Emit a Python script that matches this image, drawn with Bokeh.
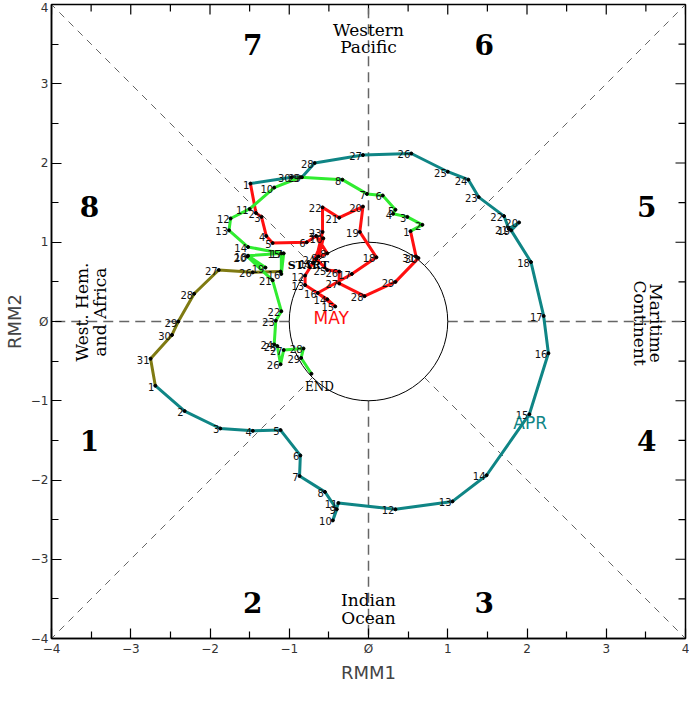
import numpy as np
from bokeh.plotting import figure
from bokeh.models import Range1d, LinearAxis, FixedTicker
from bokeh.core.properties import value
from bokeh.embed import file_html
from bokeh.resources import INLINE

# ---------------- data (RMM1, RMM2) ----------------
mar_days = [25, 26, 27, 28, 29, 30, 31]
mar_x = [-1.11, -1.46, -1.89, -2.20, -2.40, -2.48, -2.75]
mar_y = [0.63, 0.62, 0.65, 0.35, 0.00, -0.17, -0.47]

apr_days = list(range(1, 31))
apr_x = [-2.69, -2.32, -1.87, -1.46, -1.11, -0.86, -0.87, -0.55, -0.40, -0.45,
         -0.38, 0.34, 1.06, 1.49, 2.03, 2.27, 2.21, 2.05, 1.80, 1.90,
         1.77, 1.71, 1.39, 1.26, 1.00, 0.54, -0.07, -0.68, -0.84, -0.97]
apr_y = [-0.81, -1.13, -1.35, -1.38, -1.37, -1.69, -1.95, -2.15, -2.37, -2.51,
         -2.29, -2.37, -2.27, -1.94, -1.17, -0.40, 0.07, 0.75, 1.15, 1.25,
         1.17, 1.33, 1.57, 1.79, 1.89, 2.12, 2.10, 2.00, 1.82, 1.82]

may_days = list(range(1, 32))
may_x = [-1.49, -1.42, -1.35, -1.29, -1.21, -0.78, -0.66, -0.52, -0.63, -0.57,
         -0.70, -0.80, -0.80, -0.52, -0.42, -0.64, -0.21, 0.10, -0.11, -0.07,
         -0.37, -0.58, -0.58, -0.66, -0.52, -0.37, -0.37, -0.05, 0.34, 0.63,
         0.60]
may_y = [1.74, 1.37, 1.32, 1.08, 0.99, 1.00, 1.08, 0.86, 0.82, 1.05,
         0.74, 0.58, 0.46, 0.28, 0.19, 0.36, 0.60, 0.81, 1.13, 1.45,
         1.31, 1.44, 1.13, 0.79, 0.65, 0.63, 0.48, 0.32, 0.50, 0.80,
         0.82]

jun_days = list(range(1, 31))
jun_x = [0.53, 0.68, 0.49, 0.31, 0.34, 0.18, -0.02, -0.33, -0.86, -1.19,
         -1.50, -1.74, -1.76, -1.52, -1.10, -1.10, -1.07, -1.52, -1.30, -1.53,
         -1.21, -1.10, -1.17, -1.19, -1.15, -1.11, -1.07, -0.82, -0.85, -0.72]
jun_y = [1.14, 1.22, 1.32, 1.36, 1.41, 1.59, 1.61, 1.79, 1.82, 1.69,
         1.42, 1.30, 1.15, 0.94, 0.86, 0.60, 0.86, 0.83, 0.68, 0.82,
         0.52, 0.13, 0.01, -0.29, -0.31, -0.54, -0.36, -0.34, -0.46, -0.66]

month_colors = ["#7f7a12", "#0f8585", "#ff1010", "#30ec30"]
tick_vals = [-4, -3, -2, -1, 0, 1, 2, 3, 4]
minor_vals = [-3.5, -2.5, -1.5, -0.5, 0.5, 1.5, 2.5, 3.5]

phase_labels = ["1", "2", "3", "4", "5", "6", "7", "8"]
phase_x = [-3.52, -1.46, 1.46, 3.51, 3.51, 1.46, -1.46, -3.52]
phase_y = [-1.50, -3.55, -3.55, -1.50, 1.45, 3.50, 3.50, 1.45]

# ---------------- figure ----------------
FRAME = 634
p = figure(frame_width=FRAME, frame_height=FRAME, x_range=Range1d(-4, 4), y_range=Range1d(-4, 4),
           output_backend="svg", toolbar_location=None, x_axis_location=None, y_axis_location=None,
           min_border_left=10, min_border_right=4, min_border_top=4, min_border_bottom=10,
           background_fill_color="white", border_fill_color="white")
p.xgrid.visible = False
p.ygrid.visible = False
p.outline_line_color = "black"
p.outline_line_width = 1.5

def make_axis(side, title):
    ax = LinearAxis(ticker=FixedTicker(ticks=tick_vals, minor_ticks=minor_vals))
    ax.major_tick_in = 10
    ax.major_tick_out = 0
    ax.minor_tick_in = 7
    ax.minor_tick_out = 0
    ax.axis_line_color = "black"
    ax.axis_line_width = 1.5
    ax.major_tick_line_color = "black"
    ax.minor_tick_line_color = "black"
    ax.major_tick_line_width = 1.2
    ax.minor_tick_line_width = 1.2
    ax.major_label_overrides = {0: "Ø"}
    ax.major_label_text_font = "DejaVu Sans"
    ax.major_label_text_font_size = "12px"
    ax.major_label_text_color = "#333333"
    ax.major_label_standoff = 3
    ax.axis_label = title
    ax.axis_label_text_font = "DejaVu Sans"
    ax.axis_label_text_font_size = "18px"
    ax.axis_label_text_font_style = "normal"
    ax.axis_label_text_color = "#444444"
    ax.axis_label_standoff = 3
    p.add_layout(ax, side)
    return ax

make_axis("below", "RMM1")
make_axis("left", "RMM2")

# inward ticks on the top and right frame edges
px_per_unit = FRAME / 8.0
maj_len = 10 / px_per_unit
min_len = 7 / px_per_unit
tv = np.array(tick_vals, dtype=float)
mv = np.array(minor_vals, dtype=float)
p.segment(x0=tv, y0=np.full(tv.size, 4.0), x1=tv, y1=np.full(tv.size, 4.0 - maj_len),
          line_color="black", line_width=1.2)
p.segment(x0=mv, y0=np.full(mv.size, 4.0), x1=mv, y1=np.full(mv.size, 4.0 - min_len),
          line_color="black", line_width=1.2)
p.segment(x0=np.full(tv.size, 4.0), y0=tv, x1=np.full(tv.size, 4.0 - maj_len), y1=tv,
          line_color="black", line_width=1.2)
p.segment(x0=np.full(mv.size, 4.0), y0=mv, x1=np.full(mv.size, 4.0 - min_len), y1=mv,
          line_color="black", line_width=1.2)

# ---------------- guide lines ----------------
r_in, r_out = 1.0, 4.0
d_in = r_in / np.sqrt(2)
p.segment(x0=[0, 0, r_in, -r_in], y0=[r_in, -r_in, 0, 0],
          x1=[0, 0, r_out, -r_out], y1=[r_out, -r_out, 0, 0],
          line_color="#666666", line_width=1.5, line_dash="10 6")
p.segment(x0=[d_in, -d_in, d_in, -d_in], y0=[d_in, d_in, -d_in, -d_in],
          x1=[r_out, -r_out, r_out, -r_out], y1=[r_out, r_out, -r_out, -r_out],
          line_color="#666666", line_width=1, line_dash="7 6")
p.circle(x=[0], y=[0], radius=r_in, fill_color=None, line_color="black", line_width=1)

# ---------------- region & phase texts ----------------
serif = value("DejaVu Serif")
p.text(x=phase_x, y=phase_y, text=phase_labels, text_font=serif, text_font_size="28px",
       text_font_style="bold", text_align="center", text_baseline="middle", text_color="black")
p.text(x=[0, 0], y=[3.68, 3.46], text=["Western", "Pacific"], text_font=serif,
       text_font_size="17px", text_align="center", text_baseline="middle", text_color="black")
p.text(x=[0, 0], y=[-3.52, -3.74], text=["Indian", "Ocean"], text_font=serif,
       text_font_size="17px", text_align="center", text_baseline="middle", text_color="black")
p.text(x=[-3.61, -3.39], y=[0.12, 0.12], text=["West. Hem.", "and Africa"], angle=np.pi / 2,
       text_font=serif, text_font_size="17px", text_align="center", text_baseline="middle",
       text_color="black")
p.text(x=[3.63, 3.43], y=[-0.02, -0.02], text=["Maritime", "Continent"], angle=-np.pi / 2,
       text_font=serif, text_font_size="17px", text_align="center", text_baseline="middle",
       text_color="black")

# ---------------- trajectory ----------------
months = [(mar_days, mar_x, mar_y), (apr_days, apr_x, apr_y),
          (may_days, may_x, may_y), (jun_days, jun_x, jun_y)]
for i, (d, xs, ys) in enumerate(months):
    lx = list(xs)
    ly = list(ys)
    if i + 1 < len(months):
        lx.append(months[i + 1][1][0])
        ly.append(months[i + 1][2][0])
    p.line(lx, ly, line_color=month_colors[i], line_width=3, line_join="round")

for i, (d, xs, ys) in enumerate(months):
    p.scatter(xs, ys, size=3, color="black")

lab = value("DejaVu Sans")
for i, (d, xs, ys) in enumerate(months):
    d2, x2, y2 = list(d), list(xs), list(ys)
    if i == 0:
        d2, x2, y2 = d2[1:], x2[1:], y2[1:]
    if i == len(months) - 1:
        d2, x2, y2 = d2[:-1], x2[:-1], y2[:-1]
    p.text(x=x2, y=y2, text=[str(v) for v in d2], text_font=lab, text_font_size="10px",
           text_align="right", text_baseline="middle", x_offset=-1, y_offset=1,
           text_color="#111111")

p.text(x=[mar_x[0] + 0.09], y=[mar_y[0] + 0.08], text=["START"], text_font=serif,
       text_font_size="11px", text_font_style="bold", text_align="left",
       text_baseline="middle", text_color="black")
p.text(x=[jun_x[-1] - 0.08], y=[jun_y[-1] - 0.08], text=["END"], text_font=serif,
       text_font_size="12px", text_align="left", text_baseline="top", text_color="black")

p.text(x=[2.04], y=[-1.28], text=["APR"], text_font=value("DejaVu Sans"), text_font_size="17px",
       text_align="center", text_baseline="middle", text_color=month_colors[1])
p.text(x=[-0.47], y=[0.04], text=["MAY"], text_font=value("DejaVu Sans"), text_font_size="17px",
       text_align="center", text_baseline="middle", text_color=month_colors[2])

open("out.html", "w").write(file_html(p, INLINE))
